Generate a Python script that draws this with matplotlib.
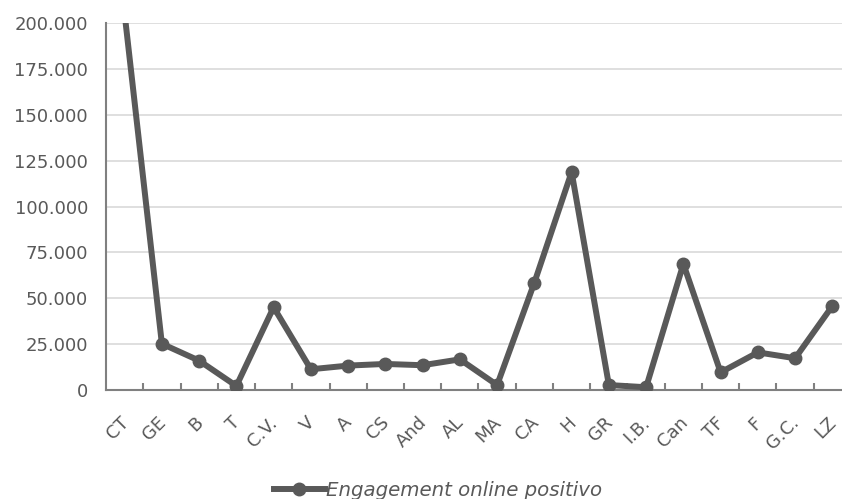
import matplotlib
matplotlib.use("Agg")
import matplotlib.pyplot as plt
import matplotlib.transforms as mtransforms
from matplotlib.ticker import FuncFormatter, MultipleLocator

regiones = ['CT', 'GE', 'B', 'T', 'C.V.', 'V', 'A', 'CS', 'And', 'AL',
            'MA', 'CA', 'H', 'GR', 'I.B.', 'Can', 'TF', 'F', 'G.C.', 'LZ']
engagement = [205000, 25200, 16000, 2200, 45100, 11300, 13300, 14200, 13500, 16700,
              2700, 58500, 118800, 2700, 1500, 68700, 9600, 20500, 17300, 45800]

gris = '#595959'
plt.rcParams['font.family'] = 'DejaVu Sans'

fig = plt.figure(figsize=(8.42, 4.99), dpi=100)
# el eje derecho se sale del lienzo, igual que en el gráfico original recortado
ax = fig.add_axes([106 / 842, 109 / 499, 745 / 842, 367 / 499])

ax.plot(range(len(regiones)), engagement, color=gris, linewidth=4.3,
        marker='o', markersize=9, label='Engagement online positivo',
        solid_joinstyle='round', zorder=3)

ax.set_xlim(-0.5, len(regiones) - 0.5)
ax.set_ylim(0, 200000)
ax.yaxis.set_major_locator(MultipleLocator(25000))
ax.yaxis.set_major_formatter(FuncFormatter(lambda v, p: f'{int(v):,}'.replace(',', '.')))
ax.grid(axis='y', color='#d9d9d9', linewidth=1.2)
ax.set_axisbelow(True)

for lado in ['top', 'right']:
    ax.spines[lado].set_visible(False)
for lado in ['left', 'bottom']:
    ax.spines[lado].set_color('#808080')
    ax.spines[lado].set_linewidth(1.5)

ax.set_xticks(range(len(regiones)))
ax.set_xticklabels(regiones, rotation=45, ha='right', rotation_mode='anchor')
ax.set_xticks([i + 0.5 for i in range(len(regiones))], minor=True)
ax.tick_params(axis='x', which='major', length=0, pad=17, labelsize=13, labelcolor=gris)
ax.tick_params(axis='x', which='minor', direction='in', length=5, width=1.5, color='#808080')
ax.tick_params(axis='y', length=0, pad=13, labelsize=13, labelcolor=gris)

# desplaza las etiquetas giradas un poco a la izquierda
desplaza = mtransforms.ScaledTranslation(-5 / 100, 0, fig.dpi_scale_trans)
for etiqueta in ax.get_xticklabels():
    etiqueta.set_transform(etiqueta.get_transform() + desplaza)

leg = fig.legend(loc='center', bbox_to_anchor=(438 / 842, 9 / 499), frameon=False,
                 handlelength=2.6, handletextpad=0.05,
                 prop={'style': 'italic', 'size': 14.2})
for t in leg.get_texts():
    t.set_color(gris)

fig.savefig('out.png', dpi=100)
